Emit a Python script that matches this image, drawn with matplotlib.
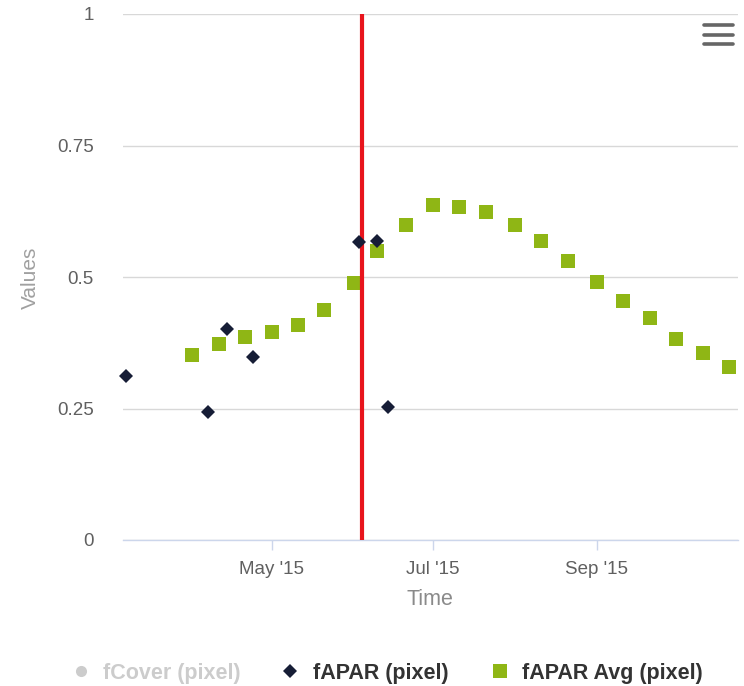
import matplotlib
matplotlib.use("Agg")
import matplotlib.pyplot as plt
from matplotlib.lines import Line2D
import datetime as dt

# ---- data ----
fapar_dates = ["2015-03-07", "2015-04-07", "2015-04-14", "2015-04-24",
               "2015-06-03", "2015-06-10", "2015-06-14"]
fapar_values = [0.312, 0.243, 0.402, 0.347, 0.567, 0.569, 0.252]

avg_dates = ["2015-04-01", "2015-04-11", "2015-04-21", "2015-05-01", "2015-05-11",
             "2015-05-21", "2015-06-01", "2015-06-10", "2015-06-21", "2015-07-01",
             "2015-07-11", "2015-07-21", "2015-08-01", "2015-08-11", "2015-08-21",
             "2015-09-01", "2015-09-11", "2015-09-21", "2015-10-01", "2015-10-11",
             "2015-10-21"]
avg_values = [0.351, 0.373, 0.386, 0.396, 0.408, 0.438, 0.489, 0.549, 0.598, 0.637,
              0.633, 0.623, 0.598, 0.568, 0.531, 0.491, 0.455, 0.423, 0.382, 0.355,
              0.328]

marker_date = "2015-06-04"
tick_dates = ["2015-05-01", "2015-07-01", "2015-09-01"]
tick_labels = ["May '15", "Jul '15", "Sep '15"]
y_ticks = [0, 0.25, 0.5, 0.75, 1]
y_tick_labels = ["0", "0.25", "0.5", "0.75", "1"]
x_range = ["2015-03-05 20:00", "2015-10-24 08:00"]
legend_labels = ["fCover (pixel)", "fAPAR (pixel)", "fAPAR Avg (pixel)"]

def to_dt(s):
    fmt = "%Y-%m-%d %H:%M" if " " in s else "%Y-%m-%d"
    return dt.datetime.strptime(s, fmt)

plt.rcParams['font.family'] = ['Liberation Sans', 'DejaVu Sans']

W, H = 744, 686
fig = plt.figure(figsize=(W / 100, H / 100), dpi=100)
ax = fig.add_axes([123 / W, 1 - 540 / H, (738 - 123) / W, (540 - 14) / H])

GREEN = "#8fb615"
NAVY = "#161d36"
RED = "#e8141c"

ax.scatter([to_dt(d) for d in avg_dates], avg_values, marker="s", s=13.5 ** 2 * 0.52,
           color=GREEN, linewidths=0, zorder=3, clip_on=False)
ax.axvline(to_dt(marker_date), color=RED, linewidth=3.0, zorder=4)
ax.plot([to_dt(d) for d in fapar_dates], fapar_values, linestyle="none", marker="D",
        markersize=7.2, color=NAVY, markeredgewidth=0, zorder=5, clip_on=False)

ax.set_xlim(to_dt(x_range[0]), to_dt(x_range[1]))
ax.set_ylim(0, 1)
ax.set_yticks(y_ticks)
ax.set_yticklabels(y_tick_labels)
ax.set_xticks([to_dt(d) for d in tick_dates])
ax.set_xticklabels(tick_labels)

ax.grid(axis="y", color="#d8d8d8", linewidth=1.0, zorder=0)
for s in ["top", "right", "left"]:
    ax.spines[s].set_visible(False)
ax.spines["bottom"].set_color("#ccd6eb")
ax.spines["bottom"].set_linewidth(1.0)
ax.tick_params(axis="y", length=0, pad=21, labelsize=13.5, labelcolor="#606060")
ax.tick_params(axis="x", length=7.2, width=1, color="#ccd6eb", pad=8,
               labelsize=13.5, labelcolor="#606060")
ax.set_axisbelow(True)

ax.set_ylabel("Values", color="#a0a0a0", fontsize=15)
ax.yaxis.set_label_coords((40 - 123) / 615, (540 - 278) / 526)
ax.set_xlabel("Time", color="#8a8a8a", fontsize=15.5)
ax.xaxis.set_label_coords((430 - 123) / 615, -(589 - 540) / 526)

# legend (drawn manually to match placement)
ly = 1 - 671 / H
leg_markers = [("o", 8, "#cccccc", 81), ("D", 7, NAVY, 290), ("s", 10, GREEN, 500)]
leg_text_x = [103, 313, 522]
leg_colors = ["#cccccc", "#333333", "#333333"]
for (m, ms, c, mx), tx, lab, tc in zip(leg_markers, leg_text_x, legend_labels, leg_colors):
    fig.add_artist(Line2D([mx / W], [ly], linestyle="none", marker=m, markersize=ms,
                          color=c, markeredgewidth=0, transform=fig.transFigure))
    fig.text(tx / W, ly, lab, ha="left", va="center_baseline", fontsize=15.5,
             fontweight="bold", color=tc)

# menu icon
for yy in [25, 34.5, 44]:
    fig.add_artist(Line2D([704 / W, 733 / W], [1 - yy / H, 1 - yy / H], color="#666666",
                          linewidth=2.6, solid_capstyle="round", transform=fig.transFigure))

fig.savefig("out.png", dpi=100, facecolor="white")
